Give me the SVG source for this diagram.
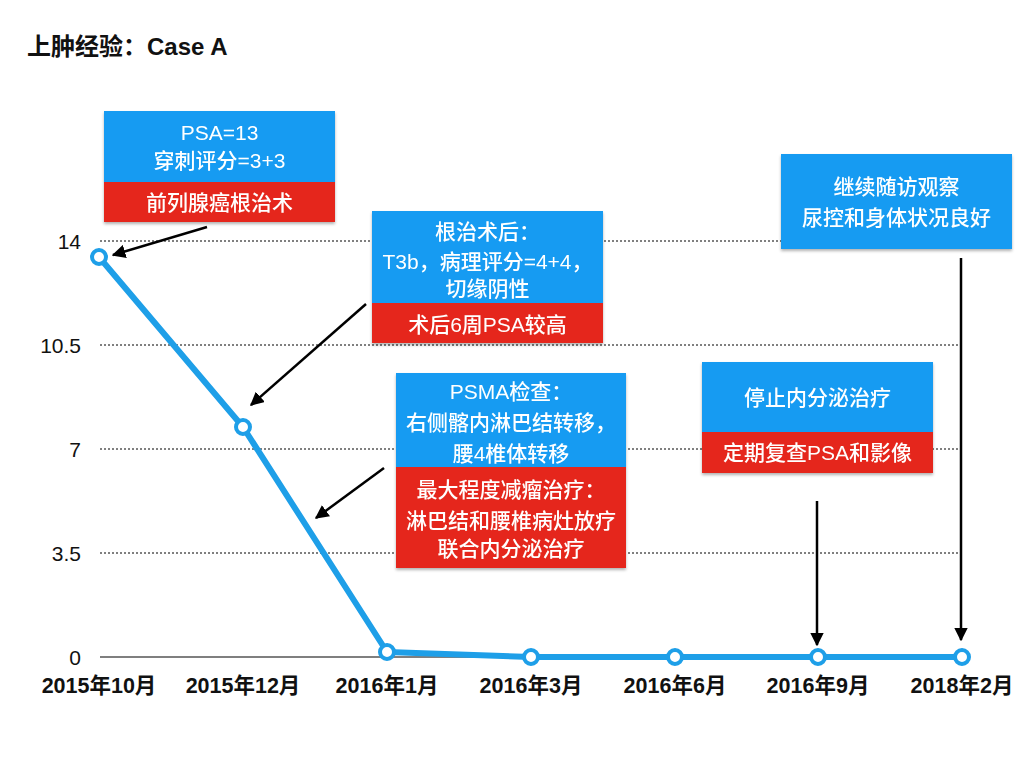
<svg xmlns="http://www.w3.org/2000/svg" width="1024" height="768" viewBox="0 0 1024 768">
<style>
.grid{stroke:#000;stroke-width:1;stroke-dasharray:2,2;fill:none}
.ylab{font-family:"Liberation Sans","Noto Sans CJK SC",sans-serif;font-size:21px;fill:#111;text-anchor:end}
.xlab{font-family:"Liberation Sans","Noto Sans CJK SC",sans-serif;font-size:21.5px;font-weight:bold;fill:#111;text-anchor:middle}
.bt{font-family:"Liberation Sans","Noto Sans CJK SC",sans-serif;font-size:21px;font-weight:500;fill:#fff;text-anchor:middle}
.blue{fill:#139BF2}
.red{fill:#E5271B}
.arr{stroke:#000;stroke-width:2.5;fill:none;marker-end:url(#ah)}
.pt{fill:#fff;stroke:#1E9FE8;stroke-width:4}
</style>
<defs>
<marker id="ah" viewBox="0 0 10 10" refX="9" refY="5" markerWidth="5.5" markerHeight="5.5" orient="auto" markerUnits="strokeWidth">
<path d="M0,0 L10,5 L0,10 z" fill="#000"/>
</marker>
<filter id="sh" x="-5%" y="-5%" width="110%" height="115%">
<feDropShadow dx="0" dy="2" stdDeviation="1.5" flood-color="#000" flood-opacity="0.3"/>
</filter>
</defs>
<rect width="1024" height="768" fill="#fff"/>
<text x="27" y="55" font-family="'Liberation Sans','Noto Sans CJK SC',sans-serif" font-size="24" font-weight="bold" fill="#111">上肿经验：Case A</text>
<g id="axes">
<line class="grid" x1="100" y1="241" x2="960" y2="241"/>
<line class="grid" x1="100" y1="345" x2="960" y2="345"/>
<line class="grid" x1="100" y1="449" x2="960" y2="449"/>
<line class="grid" x1="100" y1="553" x2="960" y2="553"/>
<line x1="100" y1="657" x2="962" y2="657" stroke="#000" stroke-width="1.2"/>
<text class="ylab" x="81" y="249">14</text>
<text class="ylab" x="81" y="353">10.5</text>
<text class="ylab" x="81" y="457">7</text>
<text class="ylab" x="81" y="561">3.5</text>
<text class="ylab" x="81" y="665">0</text>
<text class="xlab" x="99" y="693">2015年10月</text>
<text class="xlab" x="243" y="693">2015年12月</text>
<text class="xlab" x="387" y="693">2016年1月</text>
<text class="xlab" x="531" y="693">2016年3月</text>
<text class="xlab" x="675" y="693">2016年6月</text>
<text class="xlab" x="818" y="693">2016年9月</text>
<text class="xlab" x="962" y="693">2018年2月</text>
</g>
<g id="series">
<polyline points="99,257 243,427 387,652 531,657 675,657 818,657 962,657" fill="none" stroke="#1E9FE8" stroke-width="6" stroke-linejoin="round"/>
<circle class="pt" cx="99" cy="257" r="7"/>
<circle class="pt" cx="243" cy="427" r="7"/>
<circle class="pt" cx="387" cy="652" r="7"/>
<circle class="pt" cx="531" cy="657" r="7"/>
<circle class="pt" cx="675" cy="657" r="7"/>
<circle class="pt" cx="818" cy="657" r="7"/>
<circle class="pt" cx="962" cy="657" r="7"/>
</g>
<g id="box1" filter="url(#sh)">
<rect class="blue" x="104" y="111" width="231" height="71"/>
<rect class="red" x="104" y="182" width="231" height="40"/>
<text class="bt" x="219.5" y="140">PSA=13</text>
<text class="bt" x="219.5" y="168">穿刺评分=3+3</text>
<text class="bt" x="219.5" y="210">前列腺癌根治术</text>
</g>
<g id="box2" filter="url(#sh)">
<rect class="blue" x="372" y="211" width="231" height="92"/>
<rect class="red" x="372" y="303" width="231" height="40"/>
<text class="bt" x="487.5" y="239">根治术后：</text>
<text class="bt" x="487.5" y="269">T3b，病理评分=4+4，</text>
<text class="bt" x="487.5" y="296">切缘阴性</text>
<text class="bt" x="487.5" y="332">术后6周PSA较高</text>
</g>
<g id="box3" filter="url(#sh)">
<rect class="blue" x="396" y="373" width="230" height="94"/>
<rect class="red" x="396" y="467" width="230" height="101"/>
<text class="bt" x="511" y="399">PSMA检查：</text>
<text class="bt" x="511" y="430">右侧髂内淋巴结转移，</text>
<text class="bt" x="511" y="461">腰4椎体转移</text>
<text class="bt" x="511" y="497">最大程度减瘤治疗：</text>
<text class="bt" x="511" y="528">淋巴结和腰椎病灶放疗</text>
<text class="bt" x="511" y="556">联合内分泌治疗</text>
</g>
<g id="box4" filter="url(#sh)">
<rect class="blue" x="781" y="154" width="231" height="95"/>
<text class="bt" x="896.5" y="194">继续随访观察</text>
<text class="bt" x="896.5" y="225">尿控和身体状况良好</text>
</g>
<g id="box5" filter="url(#sh)">
<rect class="blue" x="702" y="362" width="231" height="70"/>
<rect class="red" x="702" y="432" width="231" height="41"/>
<text class="bt" x="817.5" y="405">停止内分泌治疗</text>
<text class="bt" x="817.5" y="460">定期复查PSA和影像</text>
</g>
<g id="connectors">
<line class="arr" x1="207" y1="227" x2="113" y2="255"/>
<line class="arr" x1="366" y1="304" x2="251" y2="405"/>
<line class="arr" x1="384" y1="468" x2="316" y2="518"/>
<line class="arr" x1="817" y1="501" x2="817" y2="645"/>
<line class="arr" x1="961" y1="258" x2="961" y2="640"/>
</g>
</svg>
